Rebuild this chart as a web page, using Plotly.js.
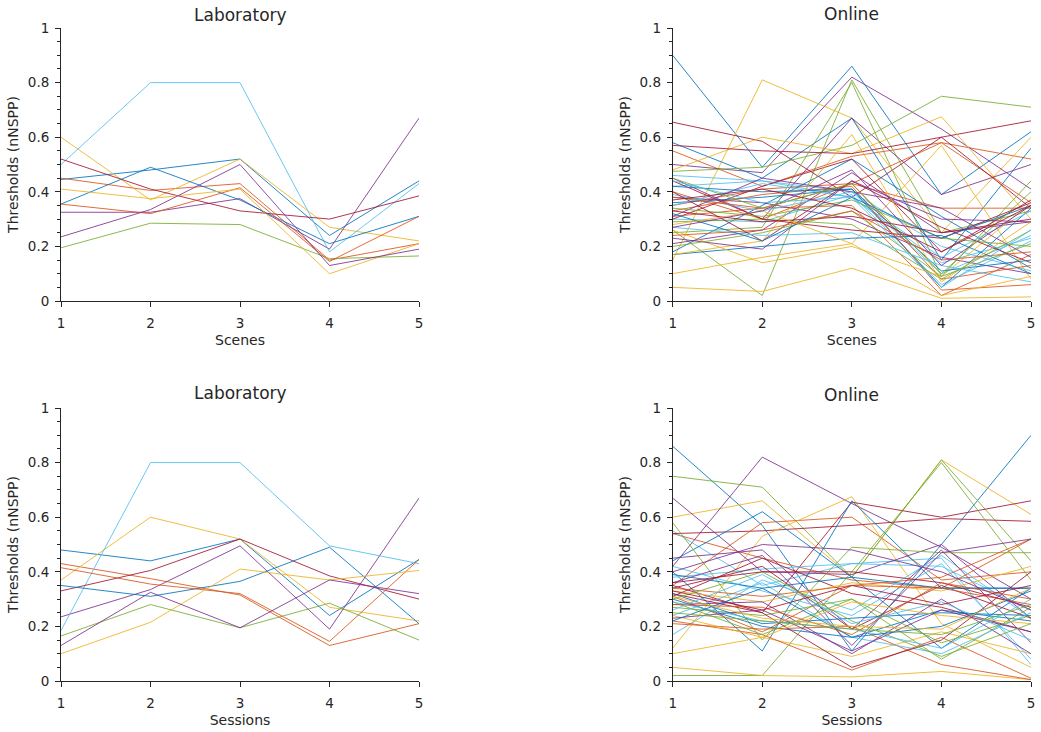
<!DOCTYPE html>
<html>
<head>
<meta charset="utf-8">
<script src="https://cdn.plot.ly/plotly-3.0.1.min.js"></script>
<style>html,body{margin:0;padding:0;background:#fff;}#chart{width:1041px;height:732px;}</style>
</head>
<body>
<div id="chart"></div>
<script>
// x categories
var xTicks = [1, 2, 3, 4, 5];

// MATLAB default line colour order
var lineColors = ['#0072BD', '#D95319', '#EDB120', '#7E2F8E', '#77AC30', '#4DBEEE', '#A2142F'];

// Laboratory, by scene (one row per participant)
var labScenes = [
  [0.445, 0.48, 0.52, 0.24, 0.44],
  [0.45, 0.405, 0.43, 0.15, 0.21],
  [0.60, 0.37, 0.52, 0.27, 0.22],
  [0.325, 0.325, 0.375, 0.19, 0.67],
  [0.195, 0.285, 0.28, 0.155, 0.165],
  [0.50, 0.80, 0.80, 0.18, 0.43],
  [0.52, 0.41, 0.33, 0.30, 0.385],
  [0.355, 0.49, 0.37, 0.21, 0.31],
  [0.355, 0.32, 0.415, 0.145, 0.31],
  [0.41, 0.375, 0.41, 0.10, 0.21],
  [0.235, 0.335, 0.50, 0.13, 0.19]
];

// Laboratory, by session
var labSessions = [
  [0.48, 0.44, 0.52, 0.24, 0.445],
  [0.43, 0.375, 0.315, 0.13, 0.21],
  [0.37, 0.60, 0.52, 0.27, 0.22],
  [0.235, 0.335, 0.495, 0.19, 0.67],
  [0.165, 0.28, 0.195, 0.285, 0.15],
  [0.185, 0.80, 0.80, 0.495, 0.43],
  [0.33, 0.405, 0.52, 0.385, 0.30],
  [0.35, 0.31, 0.365, 0.49, 0.21],
  [0.415, 0.355, 0.32, 0.145, 0.445],
  [0.10, 0.215, 0.41, 0.37, 0.405],
  [0.13, 0.325, 0.195, 0.37, 0.32]
];

// Online, by scene
var onlineScenes = [
  [0.90, 0.49, 0.86, 0.39, 0.62],
  [0.55, 0.42, 0.53, 0.58, 0.52],
  [0.15, 0.81, 0.67, 0.25, 0.60],
  [0.50, 0.47, 0.82, 0.63, 0.41],
  [0.26, 0.02, 0.81, 0.25, 0.33],
  [0.46, 0.44, 0.38, 0.14, 0.23],
  [0.655, 0.585, 0.38, 0.60, 0.66],
  [0.58, 0.45, 0.67, 0.15, 0.56],
  [0.35, 0.41, 0.43, 0.58, 0.36],
  [0.48, 0.60, 0.54, 0.675, 0.30],
  [0.45, 0.30, 0.67, 0.39, 0.50],
  [0.475, 0.49, 0.57, 0.75, 0.71],
  [0.42, 0.44, 0.40, 0.10, 0.24],
  [0.57, 0.55, 0.54, 0.60, 0.34],
  [0.18, 0.35, 0.52, 0.31, 0.12],
  [0.40, 0.30, 0.43, 0.34, 0.34],
  [0.10, 0.16, 0.21, 0.57, 0.08],
  [0.21, 0.26, 0.47, 0.25, 0.29],
  [0.25, 0.27, 0.80, 0.09, 0.44],
  [0.30, 0.29, 0.39, 0.06, 0.22],
  [0.30, 0.42, 0.52, 0.18, 0.37],
  [0.36, 0.38, 0.41, 0.05, 0.34],
  [0.31, 0.34, 0.35, 0.02, 0.17],
  [0.05, 0.035, 0.12, 0.01, 0.015],
  [0.38, 0.36, 0.30, 0.16, 0.10],
  [0.29, 0.30, 0.28, 0.08, 0.26],
  [0.35, 0.43, 0.38, 0.16, 0.33],
  [0.44, 0.30, 0.26, 0.23, 0.36],
  [0.17, 0.20, 0.23, 0.24, 0.10],
  [0.33, 0.39, 0.42, 0.04, 0.06],
  [0.26, 0.14, 0.20, 0.09, 0.36],
  [0.31, 0.45, 0.40, 0.34, 0.16],
  [0.34, 0.31, 0.37, 0.23, 0.20],
  [0.39, 0.33, 0.40, 0.20, 0.11],
  [0.40, 0.22, 0.44, 0.27, 0.14],
  [0.42, 0.40, 0.41, 0.11, 0.15],
  [0.38, 0.34, 0.43, 0.08, 0.13],
  [0.17, 0.22, 0.61, 0.07, 0.29],
  [0.23, 0.19, 0.44, 0.30, 0.29],
  [0.20, 0.25, 0.33, 0.09, 0.21],
  [0.27, 0.24, 0.25, 0.13, 0.07],
  [0.33, 0.29, 0.31, 0.25, 0.30],
  [0.32, 0.22, 0.38, 0.23, 0.35],
  [0.24, 0.26, 0.33, 0.15, 0.18],
  [0.28, 0.33, 0.21, 0.02, 0.09],
  [0.27, 0.33, 0.48, 0.13, 0.35],
  [0.45, 0.34, 0.43, 0.10, 0.40],
  [0.44, 0.36, 0.38, 0.05, 0.26],
  [0.37, 0.41, 0.34, 0.18, 0.35]
];

// Online, by session
var onlineSessions = [
  [0.86, 0.57, 0.11, 0.50, 0.90],
  [0.54, 0.45, 0.37, 0.34, 0.52],
  [0.60, 0.66, 0.38, 0.81, 0.61],
  [0.42, 0.82, 0.65, 0.49, 0.30],
  [0.75, 0.71, 0.38, 0.81, 0.44],
  [0.55, 0.35, 0.43, 0.45, 0.06],
  [0.54, 0.55, 0.57, 0.595, 0.585],
  [0.44, 0.62, 0.38, 0.12, 0.34],
  [0.35, 0.58, 0.60, 0.37, 0.40],
  [0.12, 0.53, 0.675, 0.21, 0.05],
  [0.67, 0.40, 0.39, 0.50, 0.23],
  [0.58, 0.15, 0.49, 0.47, 0.47],
  [0.17, 0.37, 0.26, 0.46, 0.23],
  [0.35, 0.25, 0.655, 0.60, 0.66],
  [0.40, 0.11, 0.66, 0.34, 0.34],
  [0.31, 0.18, 0.35, 0.38, 0.52],
  [0.10, 0.16, 0.09, 0.18, 0.10],
  [0.45, 0.48, 0.19, 0.48, 0.14],
  [0.02, 0.02, 0.40, 0.80, 0.37],
  [0.38, 0.41, 0.43, 0.42, 0.26],
  [0.31, 0.45, 0.32, 0.27, 0.18],
  [0.30, 0.20, 0.16, 0.26, 0.22],
  [0.22, 0.17, 0.04, 0.16, 0.01],
  [0.05, 0.02, 0.015, 0.035, 0.005],
  [0.36, 0.46, 0.13, 0.47, 0.52],
  [0.27, 0.24, 0.30, 0.08, 0.27],
  [0.42, 0.33, 0.24, 0.43, 0.08],
  [0.34, 0.42, 0.19, 0.35, 0.23],
  [0.32, 0.21, 0.23, 0.25, 0.24],
  [0.21, 0.19, 0.20, 0.06, 0.005],
  [0.33, 0.29, 0.36, 0.33, 0.42],
  [0.28, 0.29, 0.10, 0.30, 0.10],
  [0.29, 0.17, 0.30, 0.14, 0.24],
  [0.24, 0.36, 0.16, 0.10, 0.25],
  [0.32, 0.25, 0.05, 0.15, 0.40],
  [0.39, 0.34, 0.38, 0.34, 0.34],
  [0.34, 0.31, 0.35, 0.34, 0.28],
  [0.24, 0.16, 0.29, 0.24, 0.21],
  [0.23, 0.26, 0.11, 0.26, 0.18],
  [0.30, 0.40, 0.22, 0.09, 0.21],
  [0.29, 0.22, 0.19, 0.12, 0.30],
  [0.36, 0.40, 0.40, 0.36, 0.27],
  [0.22, 0.34, 0.16, 0.20, 0.33],
  [0.28, 0.27, 0.17, 0.36, 0.30],
  [0.31, 0.23, 0.20, 0.19, 0.34],
  [0.40, 0.50, 0.48, 0.40, 0.26],
  [0.25, 0.22, 0.19, 0.17, 0.28],
  [0.26, 0.39, 0.21, 0.29, 0.15],
  [0.33, 0.26, 0.35, 0.28, 0.35]
];

var panelTitles = ['Laboratory', 'Online', 'Laboratory', 'Online'];
var xTitles = ['Scenes', 'Scenes', 'Sessions', 'Sessions'];
var yTitle = 'Thresholds (nNSPP)';

var panels = [labScenes, onlineScenes, labSessions, onlineSessions];
var axisIds = [['x', 'y'], ['x2', 'y2'], ['x3', 'y3'], ['x4', 'y4']];

var traces = [];
panels.forEach(function (rows, p) {
  rows.forEach(function (row, i) {
    traces.push({
      type: 'scatter', mode: 'lines',
      x: xTicks, y: row,
      xaxis: axisIds[p][0], yaxis: axisIds[p][1],
      line: { color: lineColors[i % lineColors.length], width: 1 },
      opacity: 0.85,
      hoverinfo: 'skip', showlegend: false
    });
  });
});

var W = 1041, H = 732;
var xDomL = [61 / W, 419 / W], xDomR = [672.7 / W, 1031 / W];
var yDomT = [1 - 301 / H, 1 - 28 / H], yDomB = [1 - 681 / H, 1 - 408 / H];
var txt = '#262626';
var font = 'DejaVu Sans, Liberation Sans, sans-serif';

function xAx(dom, anchor, title) {
  return {
    domain: dom, anchor: anchor, range: [1, 5],
    tickvals: xTicks, ticktext: xTicks.map(String),
    ticks: 'outside', ticklen: 5, tickcolor: txt, tickwidth: 1,
    ticklabelstandoff: 5,
    showline: true, linecolor: txt, linewidth: 1,
    showgrid: false, zeroline: false,
    tickfont: { family: font, size: 13.5, color: txt },
    title: { text: title, font: { family: font, size: 14, color: txt }, standoff: 4 },
    automargin: false
  };
}
function yAx(dom, anchor) {
  return {
    domain: dom, anchor: anchor, range: [0, 1],
    tickvals: [0, 0.2, 0.4, 0.6, 0.8, 1], ticktext: ['0', '0.2', '0.4', '0.6', '0.8', '1'],
    ticks: 'outside', ticklen: 5, tickcolor: txt, tickwidth: 1,
    ticklabelstandoff: 3,
    minor: { dtick: 0.05, ticks: 'outside', ticklen: 3, tickcolor: txt, showgrid: false },
    showline: true, linecolor: txt, linewidth: 1,
    showgrid: false, zeroline: false,
    tickfont: { family: font, size: 13.5, color: txt },
    title: { text: yTitle, font: { family: font, size: 14, color: txt }, standoff: 5 },
    automargin: false
  };
}

var titleY = [1 - 15 / H, 1 - 14 / H, 1 - 393 / H, 1 - 395 / H];
var titleX = [(xDomL[0] + xDomL[1]) / 2, (xDomR[0] + xDomR[1]) / 2, (xDomL[0] + xDomL[1]) / 2, (xDomR[0] + xDomR[1]) / 2];
var annotations = panelTitles.map(function (t, i) {
  return {
    text: t, xref: 'paper', yref: 'paper', x: titleX[i], y: titleY[i],
    xanchor: 'center', yanchor: 'middle', showarrow: false,
    font: { family: font, size: 17, color: txt }
  };
});

var layout = {
  width: W, height: H,
  margin: { l: 0, r: 0, t: 0, b: 0 },
  paper_bgcolor: '#ffffff', plot_bgcolor: '#ffffff',
  showlegend: false,
  xaxis: xAx(xDomL, 'y', xTitles[0]), yaxis: yAx(yDomT, 'x'),
  xaxis2: xAx(xDomR, 'y2', xTitles[1]), yaxis2: yAx(yDomT, 'x2'),
  xaxis3: xAx(xDomL, 'y3', xTitles[2]), yaxis3: yAx(yDomB, 'x3'),
  xaxis4: xAx(xDomR, 'y4', xTitles[3]), yaxis4: yAx(yDomB, 'x4'),
  annotations: annotations
};

Plotly.newPlot('chart', traces, layout, { displayModeBar: false, staticPlot: true });
</script>
</body>
</html>
